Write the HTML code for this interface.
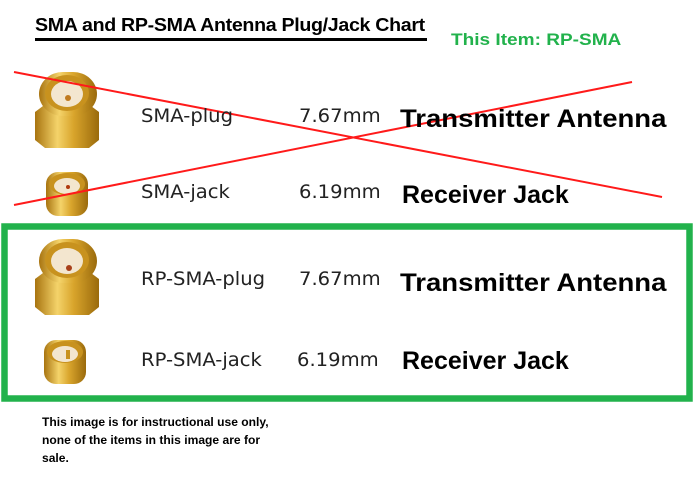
<!DOCTYPE html>
<html><head><meta charset="utf-8"><style>
body{margin:0;width:700px;height:490px;background:#fff;overflow:hidden;position:relative;font-family:"Liberation Sans",sans-serif}
.t{position:absolute;white-space:nowrap;line-height:1}
.n{font-family:"DejaVu Sans",sans-serif;font-size:19px;color:#222;transform:scaleX(1.03);transform-origin:left}
.b{font-size:25px;font-weight:bold;color:#000;transform:scaleX(1.1);transform-origin:left}
.r{transform:scaleX(1.0)}
</style></head><body>
<svg width="700" height="490" style="position:absolute;left:0;top:0">
<defs>
<linearGradient id="g" x1="0" x2="1"><stop offset="0" stop-color="#a87410"/><stop offset="0.35" stop-color="#f4d36a"/><stop offset="0.6" stop-color="#d9a52c"/><stop offset="1" stop-color="#9a6a0c"/></linearGradient>
<g id="plug">
<path d="M2 42 L10 36 L58 36 L66 42 L66 70 L56 78 L12 78 L2 70Z" fill="url(#g)"/>
<rect x="6" y="2" width="58" height="44" rx="24" fill="url(#g)"/>
<ellipse cx="34" cy="23" rx="22" ry="18" fill="#c8921e"/>
<ellipse cx="34" cy="24" rx="16" ry="13" fill="#f3e6cf"/>
</g>
<g id="jack">
<rect x="2" y="4" width="42" height="44" rx="12" fill="url(#g)"/>
<ellipse cx="23" cy="16" rx="18" ry="11" fill="#c8921e"/>
<ellipse cx="23" cy="18" rx="13" ry="8" fill="#f3e6cf"/>
</g>
</defs>
<use href="#plug" x="33" y="70"/>
<circle cx="68" cy="98" r="3" fill="#c07a20"/>
<use href="#jack" x="44" y="168"/>
<circle cx="68" cy="187" r="2" fill="#b03a10"/>
<use href="#plug" x="33" y="237"/>
<circle cx="69" cy="268" r="3" fill="#a8401a"/>
<use href="#jack" x="42" y="336"/>
<rect x="66" y="350" width="4" height="9" fill="#c8921e"/>
<line x1="14" y1="72" x2="662" y2="197" stroke="#ff1a1a" stroke-width="2"/>
<line x1="14" y1="205" x2="632" y2="82" stroke="#ff1a1a" stroke-width="2"/>
<rect x="4.5" y="226.5" width="685" height="172" fill="none" stroke="#22b24c" stroke-width="6.5"/>
<rect x="35" y="38" width="392" height="3" fill="#000"/>
</svg>
<div class="t" style="left:35px;top:16px;font-size:18px;font-weight:bold;letter-spacing:-0.3px;transform:scaleX(1.09);transform-origin:left">SMA and RP-SMA Antenna Plug/Jack Chart</div>
<div class="t" style="left:451px;top:31px;font-size:17px;font-weight:bold;color:#22b24c;transform:scaleX(1.12);transform-origin:left">This Item: RP-SMA</div>
<div class="t n" style="left:141px;top:107px">SMA-plug</div>
<div class="t n" style="left:299px;top:107px">7.67mm</div>
<div class="t b" style="left:400px;top:107px">Transmitter Antenna</div>
<div class="t n" style="left:141px;top:183px">SMA-jack</div>
<div class="t n" style="left:299px;top:183px">6.19mm</div>
<div class="t b r" style="left:402px;top:183px">Receiver Jack</div>
<div class="t n" style="left:141px;top:270px">RP-SMA-plug</div>
<div class="t n" style="left:299px;top:270px">7.67mm</div>
<div class="t b" style="left:400px;top:271px">Transmitter Antenna</div>
<div class="t n" style="left:141px;top:351px">RP-SMA-jack</div>
<div class="t n" style="left:297px;top:351px">6.19mm</div>
<div class="t b r" style="left:402px;top:349px">Receiver Jack</div>
<div class="t" style="left:42px;top:414px;font-size:11.5px;font-weight:bold;line-height:18px;transform:scaleX(1.05);transform-origin:left">This image is for instructional use only,<br>none of the items in this image are for<br>sale.</div>
</body></html>
